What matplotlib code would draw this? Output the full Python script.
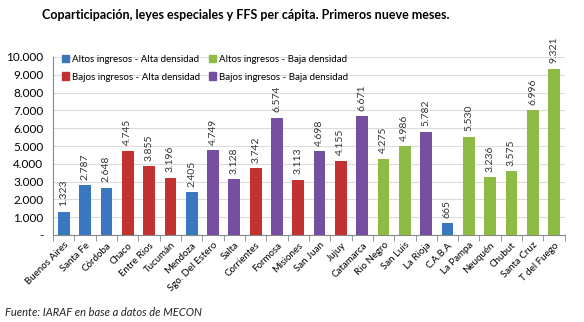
import matplotlib.pyplot as plt
from matplotlib.patches import Patch

plt.rcParams['font.family'] = ['Lato', 'DejaVu Sans']

provincias = ['Buenos Aires', 'Santa Fe', 'Córdoba', 'Chaco', 'Entre Rios', 'Tucumán',
              'Mendoza', 'Sgo. Del Estero', 'Salta', 'Corrientes', 'Formosa', 'Misiones',
              'San Juan', 'Jujuy', 'Catamarca', 'Rio Negro', 'San Luis', 'La Rioja',
              'C.A.B.A', 'La Pampa', 'Neuquén', 'Chubut', 'Santa Cruz', 'T del Fuego']
valores = [1323, 2787, 2648, 4745, 3855, 3196, 2405, 4749, 3128, 3742, 6574, 3113,
           4698, 4155, 6671, 4275, 4986, 5782, 665, 5530, 3236, 3575, 6996, 9321]
grupo = ['AA', 'AA', 'AA', 'BA', 'BA', 'BA', 'AA', 'BB', 'BB', 'BA', 'BB', 'BA',
         'BB', 'BA', 'BB', 'AB', 'AB', 'BB', 'AA', 'AB', 'AB', 'AB', 'AB', 'AB']
nombres = {'AA': 'Altos ingresos - Alta densidad', 'AB': 'Altos ingresos - Baja densidad',
           'BA': 'Bajos ingresos - Alta densidad', 'BB': 'Bajos ingresos - Baja densidad'}
colores = {'AA': '#3b76c0', 'AB': '#8dbb45', 'BA': '#c23232', 'BB': '#7650a0'}


def fmt(v):
    return f'{v:,}'.replace(',', '.')


fig = plt.figure(figsize=(5.84, 3.22), dpi=100)
ax = fig.add_axes([0.091, 0.27, 0.876, 0.553])

x = range(len(provincias))
ax.bar(x, valores, width=0.55, color=[colores[g] for g in grupo], zorder=3)
for i, v in enumerate(valores):
    ax.text(i, v + 320, fmt(v), rotation=90, ha='center', va='bottom',
            fontsize=7.5, color='#333333', clip_on=False)

ax.set_xlim(-0.5, len(provincias) - 0.5)
ax.set_ylim(0, 10000)
ax.set_yticks(range(0, 10001, 1000))
ax.set_yticklabels(['-'] + [fmt(v) for v in range(1000, 10001, 1000)], fontsize=8.5)
ax.yaxis.grid(True, color='#dcdcdc', linewidth=0.8, zorder=0)
ax.set_xticks(list(x))
ax.set_xticklabels(provincias, rotation=45, ha='right', rotation_mode='anchor', fontsize=7)
ax.set_xticks([i + 0.5 for i in range(-1, len(provincias))], minor=True)
ax.tick_params(axis='x', which='major', length=0, pad=4)
ax.tick_params(axis='x', which='minor', length=4, color='#888888')
ax.tick_params(axis='y', length=0, pad=7)
for s in ['top', 'right']:
    ax.spines[s].set_visible(False)
for s in ['left', 'bottom']:
    ax.spines[s].set_color('#888888')

handles = [Patch(color=colores[k]) for k in ['AA', 'BA', 'AB', 'BB']]
labels = [nombres[k] for k in ['AA', 'BA', 'AB', 'BB']]
ax.legend(handles, labels, ncol=2, loc='upper left', bbox_to_anchor=(0.0, 1.06),
          frameon=False, fontsize=7, handlelength=0.7, handleheight=0.8,
          handletextpad=0.3, columnspacing=1.0, labelspacing=0.85)

fig.text(0.42, 0.952, 'Coparticipación, leyes especiales y FFS per cápita. Primeros nueve meses.',
         ha='center', va='center', fontsize=9, fontweight='bold')
fig.text(0.008, 0.018, 'Fuente: IARAF en base a datos de MECON', fontsize=8,
         style='italic', color='#222222')

fig.savefig('out.png', dpi=100)
